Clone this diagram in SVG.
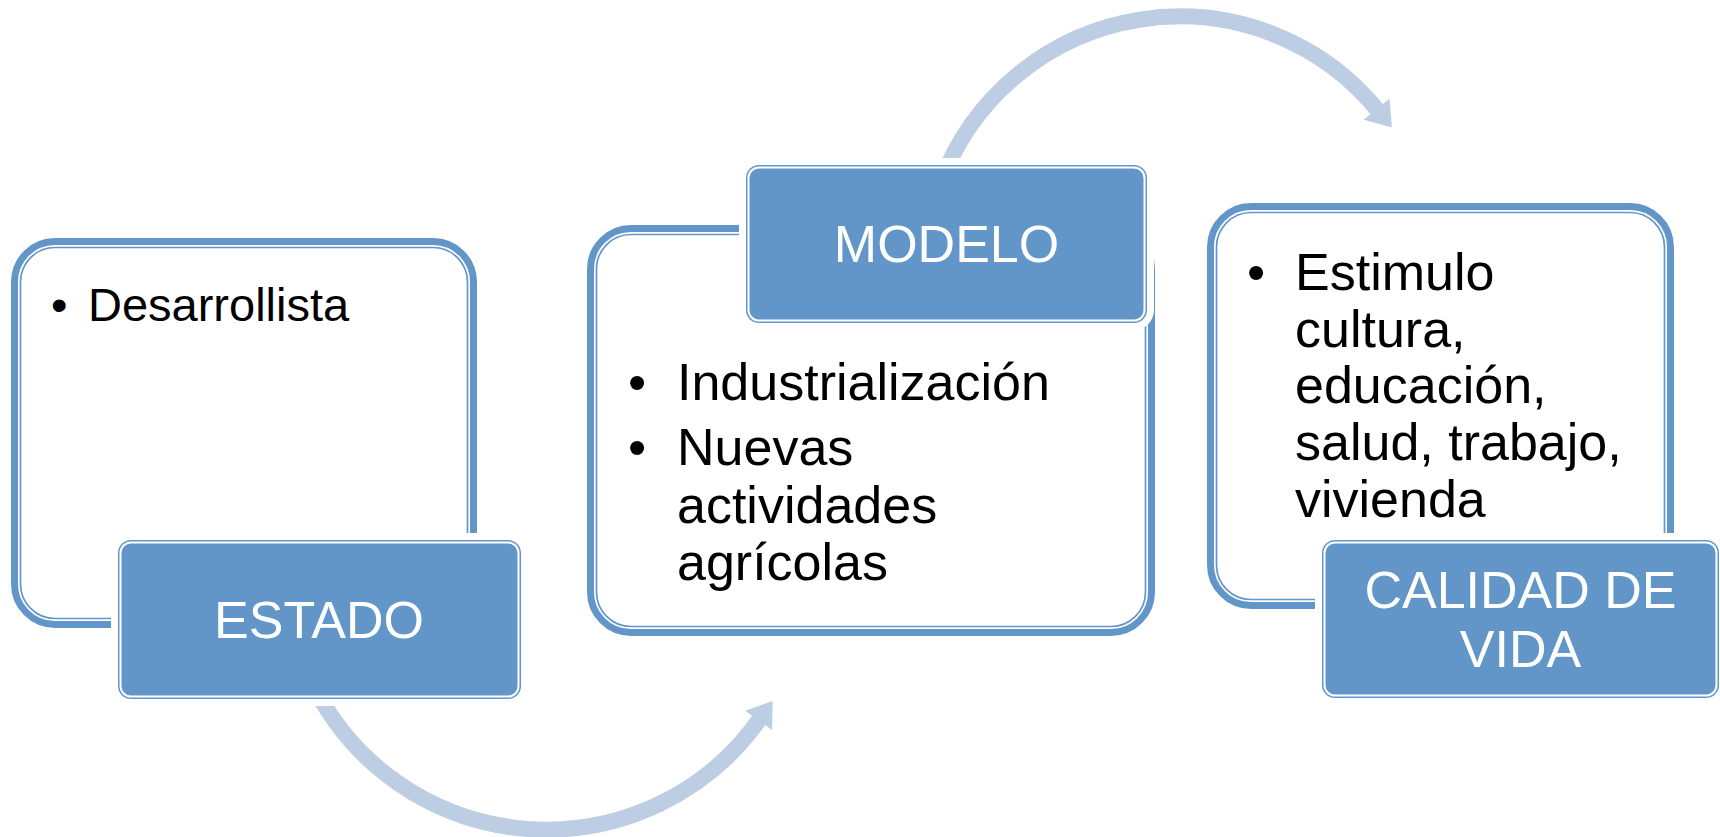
<svg xmlns="http://www.w3.org/2000/svg" width="1720" height="837" viewBox="0 0 1720 837">
<style>
.bg{fill:#ffffff}
.fr{fill:#ffffff;stroke:#6396C8;stroke-width:7}
.fi{fill:none;stroke:#6396C8;stroke-width:1.7}
.halo{fill:#ffffff}
.lab{fill:#6396C8}
.labin{fill:none;stroke:#ffffff;stroke-width:2}
.arc{fill:none;stroke:#BCCDE4;stroke-width:16}
.head{fill:#BCCDE4}
.t{font-family:"Liberation Sans",Arial,sans-serif;fill:#000000}
.lt{font-family:"Liberation Sans",Arial,sans-serif;fill:#ffffff;text-anchor:middle;font-size:52px}
</style>
<rect class="bg" x="0" y="0" width="1720" height="837"/>
<g id="connectors">
<path class="arc" d="M 310.5 679.2 A 260.5 260.5 0 0 0 762.6 714.8"/>
<polygon class="head" points="745.2,710.8 772.6,700.9 772.1,730.0"/>
<path class="arc" d="M 940 184.5 A 255.3 255.3 0 0 1 1381.1 114.6"/>
<polygon class="head" points="1363.7,119.8 1389.5,98.4 1391.9,127.6"/>
</g>
<g id="estado">
<rect class="fr" x="14.5" y="241.5" width="459" height="383" rx="40.5"/>
<rect class="fi" x="20.5" y="247.5" width="447" height="371" rx="34.5"/>
<text class="t" x="51" y="321" font-size="47">•</text>
<text class="t" x="88" y="321" font-size="47">Desarrollista</text>
<rect class="halo" x="111" y="533" width="417" height="173" rx="20"/>
<rect class="lab" x="118" y="540" width="403" height="159" rx="13"/>
<rect class="labin" x="120.5" y="542.5" width="398" height="154" rx="10.5"/>
<text class="lt" x="319" y="638">ESTADO</text>
</g>
<g id="modelo">
<rect class="fr" x="590.5" y="228.5" width="561" height="404" rx="40.5"/>
<rect class="fi" x="596.5" y="234.5" width="549" height="392" rx="34.5"/>
<text class="t" x="628" y="400" font-size="52">•</text>
<text class="t" x="677" y="400" font-size="52">Industrialización</text>
<text class="t" x="628" y="465" font-size="52">•</text>
<text class="t" x="677" y="465" font-size="52">Nuevas</text>
<text class="t" x="677" y="523" font-size="52">actividades</text>
<text class="t" x="677" y="580" font-size="52">agrícolas</text>
<rect class="halo" x="739" y="158" width="415" height="172" rx="20"/>
<rect class="lab" x="746" y="165" width="401" height="158" rx="13"/>
<rect class="labin" x="748.5" y="167.5" width="396" height="153" rx="10.5"/>
<text class="lt" x="946.5" y="262">MODELO</text>
</g>
<g id="calidad">
<rect class="fr" x="1210.5" y="206.5" width="460" height="399" rx="40.5"/>
<rect class="fi" x="1216.5" y="212.5" width="448" height="387" rx="34.5"/>
<text class="t" x="1247" y="290" font-size="52">•</text>
<text class="t" x="1295" y="290" font-size="52">Estimulo</text>
<text class="t" x="1295" y="347" font-size="52">cultura,</text>
<text class="t" x="1295" y="403" font-size="52">educación,</text>
<text class="t" x="1295" y="460" font-size="52">salud, trabajo,</text>
<text class="t" x="1295" y="517" font-size="52">vivienda</text>
<rect class="halo" x="1315" y="533" width="411" height="172" rx="20"/>
<rect class="lab" x="1322" y="540" width="397" height="158" rx="13"/>
<rect class="labin" x="1324.5" y="542.5" width="392" height="153" rx="10.5"/>
<text class="lt" x="1520.5" y="608">CALIDAD DE</text>
<text class="lt" x="1520.5" y="667">VIDA</text>
</g>
</svg>
